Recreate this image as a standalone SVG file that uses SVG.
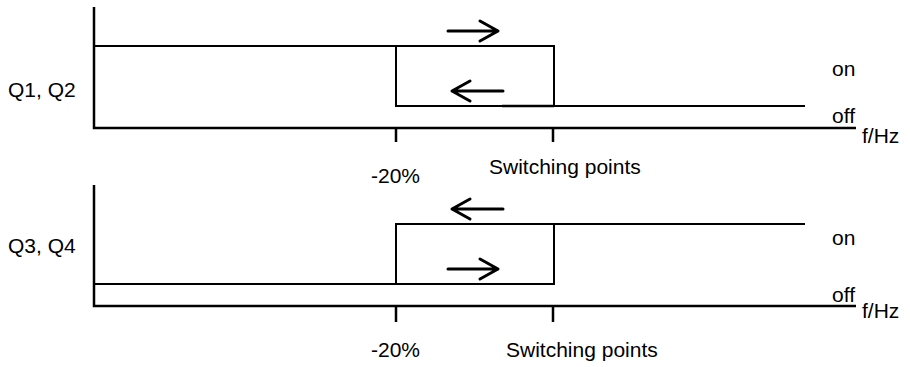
<svg xmlns="http://www.w3.org/2000/svg" width="910" height="367" viewBox="0 0 910 367">
<style>
.ax{stroke:#000;stroke-width:2.5;fill:none}
.sig{stroke:#000;stroke-width:2;fill:none}
.arr{stroke:#000;stroke-width:3;fill:none;stroke-linecap:round;stroke-linejoin:round}
text{font-family:"Liberation Sans",Arial,sans-serif;font-size:21px;fill:#000}
</style>
<rect width="910" height="367" fill="#fff"/>
<g id="chart-q1q2">
<path class="ax" d="M94,7 V128 H856 M396,128 V142 M553,128 V142"/>
<path class="sig" d="M94,46 H554 V106 M396,46 V106 H805"/>
<path class="sig" style="stroke-width:2.6" d="M502,106 H554"/>
<path class="arr" d="M448,31 H498 M480,21 L498,31 L480,41"/>
<path class="arr" d="M503,91 H452 M470,81 L452,91 L470,101"/>
<text x="8" y="97">Q1, Q2</text>
<text x="832" y="76">on</text>
<text x="832" y="123">off</text>
<text x="862" y="143">f/Hz</text>
<text x="371" y="183">-20%</text>
<text x="489" y="174">Switching points</text>
</g>
<g id="chart-q3q4">
<path class="ax" d="M94,185 V306 H856 M396,306 V322 M553,306 V322"/>
<path class="sig" d="M94,284 H554 V224 M396,284 V224 H805"/>
<path class="arr" d="M503,209 H452 M470,199 L452,209 L470,219"/>
<path class="arr" d="M448,269 H498 M480,259 L498,269 L480,279"/>
<text x="8" y="253">Q3, Q4</text>
<text x="832" y="245">on</text>
<text x="832" y="302">off</text>
<text x="862" y="318">f/Hz</text>
<text x="371" y="357">-20%</text>
<text x="506" y="357">Switching points</text>
</g>
</svg>
